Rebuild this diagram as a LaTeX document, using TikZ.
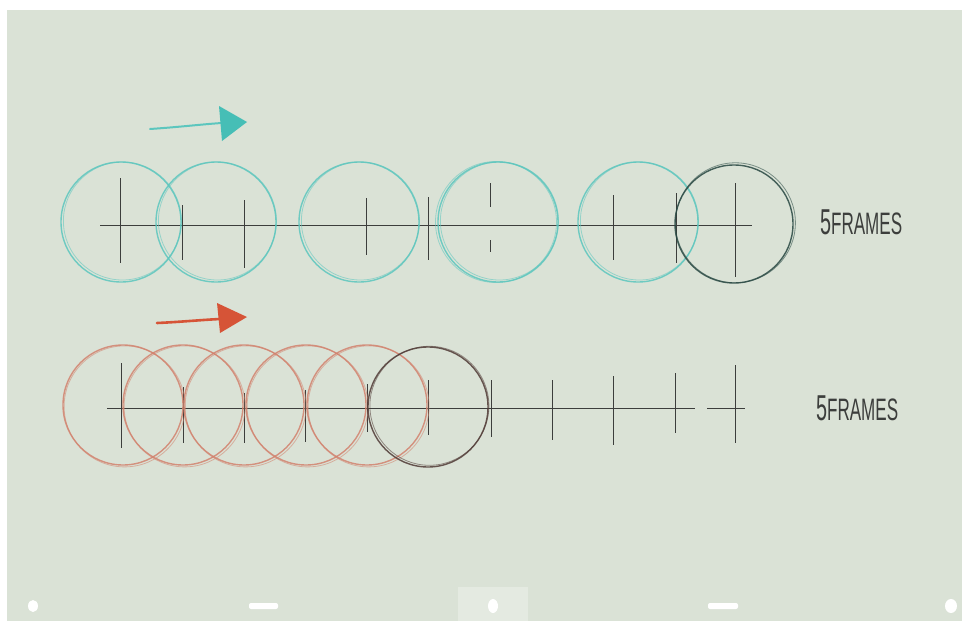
\documentclass[tikz,border=0pt]{standalone}
\usepackage{fontspec}
\setmainfont{Liberation Sans}
\begin{document}
\begin{tikzpicture}[x=1pt,y=-1pt]
\definecolor{paper}{RGB}{218,226,214}
\definecolor{paperlight}{RGB}{228,234,225}
\definecolor{cyanpen}{RGB}{92,198,190}
\definecolor{cyanfill}{RGB}{70,190,182}
\definecolor{darkteal}{RGB}{40,72,66}
\definecolor{redpen}{RGB}{210,130,110}
\definecolor{redfill}{RGB}{214,84,55}
\definecolor{darkbrown}{RGB}{80,58,54}
\definecolor{pencil}{RGB}{60,62,60}
\tikzset{
  axisline/.style={draw=pencil, line width=0.8pt},
  tickline/.style={draw=pencil, line width=0.8pt},
  sketchA/.style={line width=1.4pt, opacity=0.85},
  sketchB/.style={line width=0.8pt, opacity=0.55},
  label5/.style={text=pencil, xscale=0.55, inner sep=0pt, anchor=west},
  hole/.style={fill=white, draw=none}
}
\useasboundingbox (0,0) rectangle (962,621);
% paper
\fill[white] (0,0) rectangle (962,621);
\fill[paper] (7,10) rectangle (962,621);
\fill[paperlight] (458,587) rectangle (528,621);

% ---------- top row ----------
\draw[axisline] (100,225) -- (752,225);
\foreach \x/\a/\b in {120/178/263,182/205/260,244/200/268,366/198/255,428/197/260,613/195/260,676/193/263,735/183/277}
  \draw[tickline] (\x,\a) -- (\x,\b);
\draw[tickline] (490,183) -- (490,207);
\draw[tickline] (490,240) -- (490,252);

\foreach \n/\x in {1/121,2/216,3/359,4/498,5/638}{
  \draw[cyanpen, sketchA] (\x,222) circle[radius=60];
  \draw[cyanpen, sketchB] (\x+1.4,221) circle[radius=59];
}
\draw[cyanpen, sketchB] (496,222) circle[radius=60.5];
\draw[darkteal, sketchA] (734,224) circle[radius=59];
\draw[darkteal, sketchB] (735.4,222.8) circle[radius=60];

% cyan arrow
\draw[cyanpen, line width=2pt, line cap=round] (150,129) .. controls (180,127) and (205,124) .. (222,123);
\fill[cyanfill] (219,106) -- (247,122) -- (222,141) -- cycle;

\node[label5] (lab1) at (820,222) {\fontsize{36}{36}\selectfont 5\fontsize{31}{31}\selectfont FRAMES};

% ---------- bottom row ----------
\draw[axisline] (107,408) -- (695,408);
\draw[axisline] (707,408) -- (745,408);
\foreach \x/\a/\b in {121/363/448,183/387/443,244/393/443,305/390/442,367/384/432,428/380/435,491/380/437,552/380/440,613/376/445,675/373/433,735/365/443}
  \draw[tickline] (\x,\a) -- (\x,\b);

\foreach \n/\x in {1/123,2/183,3/244,4/306,5/367}{
  \draw[redpen, sketchA] (\x,405) circle[radius=60];
  \draw[redpen, sketchB] (\x+1.6,406.4) circle[radius=60.5];
}
\draw[darkbrown, sketchA] (428,407) circle[radius=60];
\draw[darkbrown, sketchB] (429.4,405.8) circle[radius=59.5];

% red arrow
\draw[redfill, line width=2.6pt, line cap=round] (157,323) .. controls (180,322) and (200,320) .. (220,319);
\fill[redfill] (217,303) -- (247,317) -- (220,333) -- cycle;

\node[label5] (lab2) at (816,408) {\fontsize{36}{36}\selectfont 5\fontsize{31}{31}\selectfont FRAMES};

% ---------- holes ----------
\fill[hole] (33,606) ellipse[x radius=5, y radius=6];
\fill[hole, rounded corners=2pt] (249,603) rectangle (278,609);
\fill[hole] (493,606) ellipse[x radius=5, y radius=7];
\fill[hole, rounded corners=2pt] (708,603) rectangle (738,609);
\fill[hole] (951,606) ellipse[x radius=6, y radius=7];
\end{tikzpicture}
\end{document}
